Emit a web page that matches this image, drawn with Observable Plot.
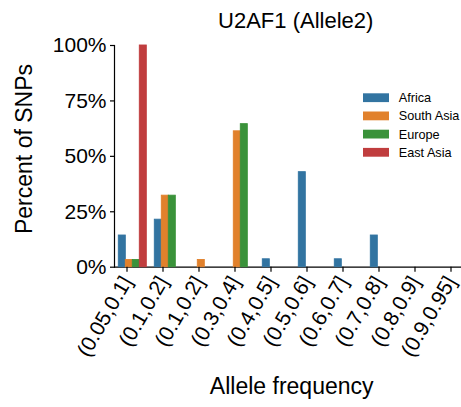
<!DOCTYPE html>
<html>
<head>
<meta charset="utf-8">
<script src="https://cdn.jsdelivr.net/npm/d3@7"></script>
<script src="https://cdn.jsdelivr.net/npm/@observablehq/plot@0.6"></script>
<style>
  html, body { margin: 0; padding: 0; background: white; overflow: hidden; }
  #chart { width: 461px; height: 407px; }
</style>
</head>
<body>
<div id="chart"></div>
<script>
const categories = ["(0.05,0.1]", "(0.1,0.2]", "(0.1,0.2]", "(0.3,0.4]", "(0.4,0.5]", "(0.5,0.6]", "(0.6,0.7]", "(0.7,0.8]", "(0.8,0.9]", "(0.9,0.95]"];
const series = ["Africa", "South Asia", "Europe", "East Asia"];
const africa = [14.29, 21.43, 0, 0, 3.57, 42.86, 3.57, 14.29, 0, 0];
const southAsia = [3.23, 32.26, 3.23, 61.29, 0, 0, 0, 0, 0, 0];
const europe = [3.23, 32.26, 0, 64.52, 0, 0, 0, 0, 0, 0];
const eastAsia = [100, 0, 0, 0, 0, 0, 0, 0, 0, 0];
const colors = ["#3274a1", "#e1812c", "#3a923a", "#c03d3e"];
const yTicks = [0, 25, 50, 75, 100];
const title = "U2AF1 (Allele2)";
const xLabel = "Allele frequency";
const yLabel = "Percent of SNPs";

const seriesValues = [africa, southAsia, europe, eastAsia];
const rows = [];
categories.forEach((c, i) => {
  series.forEach((s, j) => rows.push({cat: i, series: s, value: seriesValues[j][i]}));
});

const FONT = "'Liberation Sans', Arial, Helvetica, sans-serif";

const plot = Plot.plot({
  width: 461,
  height: 407,
  marginLeft: 113.7,
  marginRight: -12.7,
  marginTop: 45,
  marginBottom: 140.3,
  style: {fontFamily: FONT, background: "white", color: "#000"},
  fx: {domain: d3.range(categories.length), padding: 0, label: null},
  x: {domain: series, paddingInner: 0, paddingOuter: 0.5, axis: null},
  y: {domain: [0, 100], label: null},
  color: {domain: series, range: colors},
  marks: [
    Plot.ruleY([0], {stroke: "#000", strokeWidth: 1.2}),
    Plot.frame({anchor: "left", facetAnchor: "left", stroke: "#000", strokeWidth: 1.2}),
    Plot.barY(rows, {fx: "cat", x: "series", y: "value", fill: "series", stroke: "series", strokeWidth: 0.9}),
    Plot.axisY({ticks: yTicks, tickFormat: d => d + "%", tickSize: 4, tickPadding: 4, fontSize: 21, label: null, stroke: "#000", strokeWidth: 1.2}),
    Plot.axisFx({anchor: "bottom", tickFormat: i => categories[i], tickRotate: -60, tickSize: 5, tickPadding: 5.8, dx: -5.5, fontSize: 21, label: null, stroke: "#000", strokeWidth: 1.2})
  ]
});

document.getElementById("chart").appendChild(plot);

const svg = d3.select(plot);
const fx = plot.scale("fx");
const cx = (fx.range[0] + fx.range[1]) / 2;

svg.append("text")
  .attr("x", cx + 2).attr("y", 27.5)
  .attr("text-anchor", "middle")
  .style("font-family", FONT).style("font-size", "22px").attr("fill", "#000")
  .text(title);

svg.append("text")
  .attr("x", cx - 2).attr("y", 394)
  .attr("text-anchor", "middle")
  .style("font-family", FONT).style("font-size", "23px").attr("fill", "#000")
  .text(xLabel);

svg.append("text")
  .attr("transform", "translate(32,149) rotate(-90)")
  .attr("text-anchor", "middle")
  .style("font-family", FONT).style("font-size", "23px").attr("fill", "#000")
  .text(yLabel);

const color = plot.scale("color");
const legend = svg.append("g");
color.domain.forEach((s, i) => {
  const y = 97.7 + i * 18.2;
  legend.append("rect")
    .attr("x", 363).attr("y", y - 4.4).attr("width", 26).attr("height", 8.8)
    .attr("fill", color.range[i]);
  legend.append("text")
    .attr("x", 398.7).attr("y", y).attr("dy", "0.35em")
    .attr("text-anchor", "start")
    .style("font-family", FONT).style("font-size", "12.7px").attr("fill", "#000")
    .text(s);
});
</script>
</body>
</html>
